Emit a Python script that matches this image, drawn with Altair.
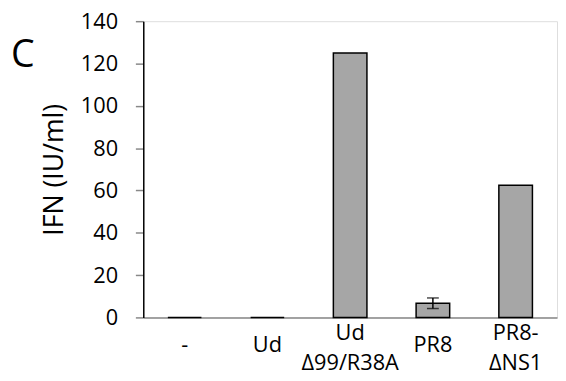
import altair as alt
import pandas as pd

categories = ["-", "Ud", "Ud|Δ99/R38A", "PR8", "PR8-|ΔNS1"]
values = [0, 0, 125, 6.7, 62.5]
err_category = ["PR8"]
err_low = [4.2]
err_high = [9.2]

FONT = "Open Sans"

df = pd.DataFrame({"cat": categories, "val": values})
edf = pd.DataFrame({"cat": err_category, "lo": err_low, "hi": err_high})
ldf = pd.DataFrame({"t": ["C"]})

xscale = alt.Scale(domain=categories, paddingInner=0.0, paddingOuter=0.0)
x = alt.X("cat:N", scale=xscale, sort=categories,
          axis=alt.Axis(labels=False, ticks=False, title=None, domainColor="#888888",
                        domainWidth=1.5))
yscale = alt.Scale(domain=[0, 140], nice=False)

bars = alt.Chart(df).mark_bar(size=34, color="#a6a6a6", stroke="black", strokeWidth=1.5).encode(
    x=x,
    y=alt.Y("val:Q", scale=yscale,
            axis=alt.Axis(values=[0, 20, 40, 60, 80, 100, 120, 140], grid=False,
                          title="IFN (IU/ml)", titleFont=FONT, titleFontSize=27,
                          titleFontWeight="normal", titleColor="black", titlePadding=12,
                          labelFont=FONT, labelFontSize=22, labelColor="black",
                          labelPadding=18, tickSize=8, tickColor="#888888", tickWidth=1.5,
                          domainColor="black", domainWidth=1.5)),
)

rule = alt.Chart(edf).mark_rule(color="black", strokeWidth=1.5).encode(
    x=alt.X("cat:N", scale=xscale, sort=categories),
    y=alt.Y("lo:Q", scale=yscale),
    y2="hi:Q",
)
cap_lo = alt.Chart(edf).mark_tick(color="black", thickness=1.5, size=12).encode(
    x=alt.X("cat:N", scale=xscale, sort=categories),
    y=alt.Y("lo:Q", scale=yscale),
)
cap_hi = alt.Chart(edf).mark_tick(color="black", thickness=1.5, size=12).encode(
    x=alt.X("cat:N", scale=xscale, sort=categories),
    y=alt.Y("hi:Q", scale=yscale),
)

label_base = alt.Chart(df).mark_text(font=FONT, fontSize=22, color="black", baseline="middle",
                                     lineBreak="|", lineHeight=30)
xlabels_single = label_base.transform_filter("indexof(datum.cat, '|') < 0").encode(
    x=alt.X("cat:N", scale=xscale, sort=categories),
    y=alt.value(328),
    text="cat:N",
)
xlabels_double = label_base.transform_filter("indexof(datum.cat, '|') >= 0").encode(
    x=alt.X("cat:N", scale=xscale, sort=categories),
    y=alt.value(316),
    text="cat:N",
)

panel = alt.Chart(ldf).mark_text(font=FONT, fontSize=38, color="black", align="left",
                                 baseline="alphabetic").encode(
    x=alt.value(-134), y=alt.value(46), text="t:N"
)

chart = alt.layer(bars, rule, cap_lo, cap_hi, xlabels_single, xlabels_double, panel).properties(
    width=419, height=300,
    autosize=alt.AutoSizeParams(type="none"),
    padding={"left": 137, "top": 11, "right": 1, "bottom": 59},
).configure_view(stroke="#888888", strokeWidth=1.5).configure(background="white")

chart.save("out.html", embed_options={"renderer": "svg", "actions": False})
